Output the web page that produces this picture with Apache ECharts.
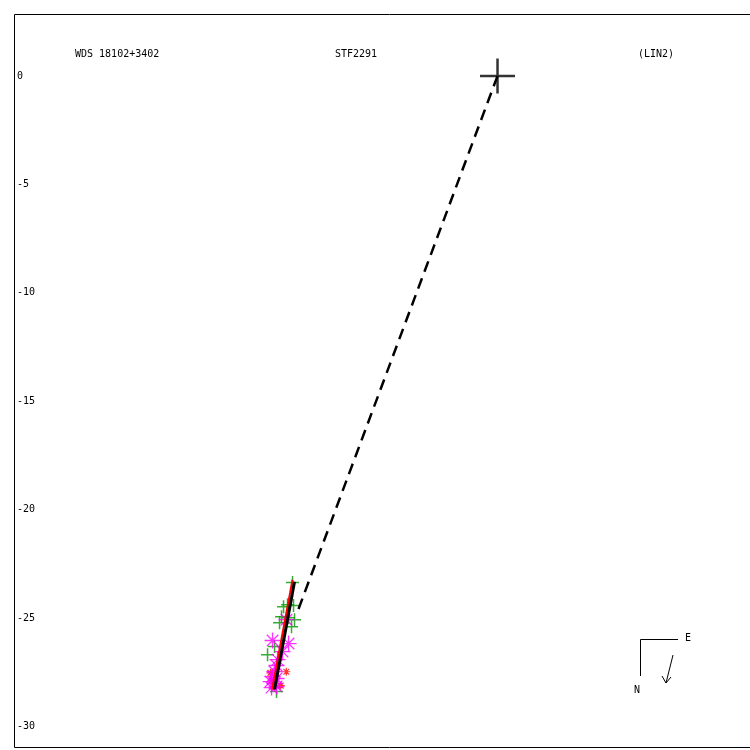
<!DOCTYPE html>
<html>
<head>
<meta charset="utf-8">
<script src="https://cdn.jsdelivr.net/npm/echarts@6/dist/echarts.min.js"></script>
<style>html,body{margin:0;padding:0;background:#fff;overflow:hidden}#c{width:770px;height:750px}</style>
</head>
<body>
<div id="c"></div>
<script>
// Observations (arcsec offsets relative to primary)
const primary = [[0, 0]];
const micrometerObs = [
  [-9.434,-23.35],[-9.848,-24.46],[-9.664,-24.37],[-9.388,-24.41],
  [-9.940,-24.92],[-9.618,-24.97],[-9.342,-25.06],[-10.032,-25.20],
  [-9.480,-25.38],[-10.262,-26.30],[-10.584,-26.67],[-10.170,-28.37]
];
const speckleObs = [
  [-10.354,-26.02],[-9.618,-26.16],[-9.894,-26.53],[-10.124,-26.90],
  [-9.710,-25.06],[-10.170,-27.17],[-10.262,-27.45],[-10.354,-27.68],
  [-10.170,-27.77],[-10.446,-27.91],[-10.262,-28.00],[-10.400,-28.19],
  [-10.170,-28.14]
];
const redObs = [[-10.45,-27.51],[-9.72,-27.46],[-9.98,-28.10],[-10.40,-27.85]];
const fitLine = [[-9.342,-23.31],[-10.262,-28.28]];
const ephemLine = [[-9.434,-23.22],[-10.378,-28.28]];
const nodeLine = [[0,0],[-9.204,-24.69]];
const yTicks = [0,-5,-10,-15,-20,-25,-30];
const labels = {left:'WDS 18102+3402', mid:'STF2291', right:'(LIN2)'};

const plusPath = 'path://M-1,0L1,0M0,-1L0,1';
const starPath = 'path://M-1,0L1,0M0,-1L0,1M-0.72,-0.72L0.72,0.72M-0.72,0.72L0.72,-0.72';
const font = '"DejaVu Sans Mono", monospace';

const chart = echarts.init(document.getElementById('c'), null, {renderer:'canvas'});
chart.setOption({
  animation: false,
  backgroundColor: '#fff',
  grid: {left: 14.5, top: 14.5, width: 750, height: 733, show: true, borderColor: '#000', borderWidth: 1, backgroundColor: 'transparent'},
  xAxis: {type: 'value', min: -22.23, max: 12.287, show: false},
  yAxis: {type: 'value', min: -30.95, max: 2.83,
    axisLine: {show: false}, axisTick: {show: false}, splitLine: {show: false},
    axisLabel: {inside: true, margin: 2.5, customValues: yTicks, color: '#000', fontFamily: font, fontSize: 10, showMinLabel: true, showMaxLabel: true}
  },
  graphic: [
    {type:'text', left: 75, top: 49, style:{text: labels.left, font: '10px '+font, fill:'#000'}},
    {type:'text', left: 335, top: 49, style:{text: labels.mid, font: '10px '+font, fill:'#000'}},
    {type:'text', left: 638, top: 49, style:{text: labels.right, font: '10px '+font, fill:'#000'}},
    {type:'polyline', shape:{points:[[678,639.5],[640.5,639.5],[640.5,676]]}, style:{stroke:'#000', lineWidth:1, fill:null}},
    {type:'text', left: 685, top: 633, style:{text:'E', font:'10px '+font, fill:'#000'}},
    {type:'text', left: 634, top: 685, style:{text:'N', font:'10px '+font, fill:'#000'}},
    {type:'polyline', shape:{points:[[673,655],[666,683]]}, style:{stroke:'#000', lineWidth:1, fill:null}},
    {type:'polyline', shape:{points:[[662,676],[666,683],[671,677]]}, style:{stroke:'#000', lineWidth:1, fill:null}}
  ],
  series: [
    {type:'scatter', data: micrometerObs, symbol: plusPath, symbolSize: 13, z: 2,
      itemStyle:{color:'none', borderColor:'#009900', borderWidth:1.5}},
    {type:'scatter', data: redObs, symbol: starPath, symbolSize: 8, z: 3,
      itemStyle:{color:'none', borderColor:'#ff0000', borderWidth:1.2}},
    {type:'scatter', data: speckleObs, symbol: starPath, symbolSize: 16, z: 4,
      itemStyle:{color:'none', borderColor:'#ff00ff', borderWidth:1.3}},
    {type:'line', data: ephemLine, showSymbol:false, z: 5,
      lineStyle:{color:'#ff0000', width:2}},
    {type:'line', data: fitLine, showSymbol:false, z: 6,
      lineStyle:{color:'#000', width:3}},
    {type:'line', data: nodeLine, showSymbol:false, z: 6,
      lineStyle:{color:'#000', width:2.5, type:[11,7]}},
    {type:'scatter', data: primary, symbol: plusPath, symbolSize: 35, z: 7,
      itemStyle:{color:'none', borderColor:'#000', borderWidth:2.5}}
  ]
});
</script>
</body>
</html>
